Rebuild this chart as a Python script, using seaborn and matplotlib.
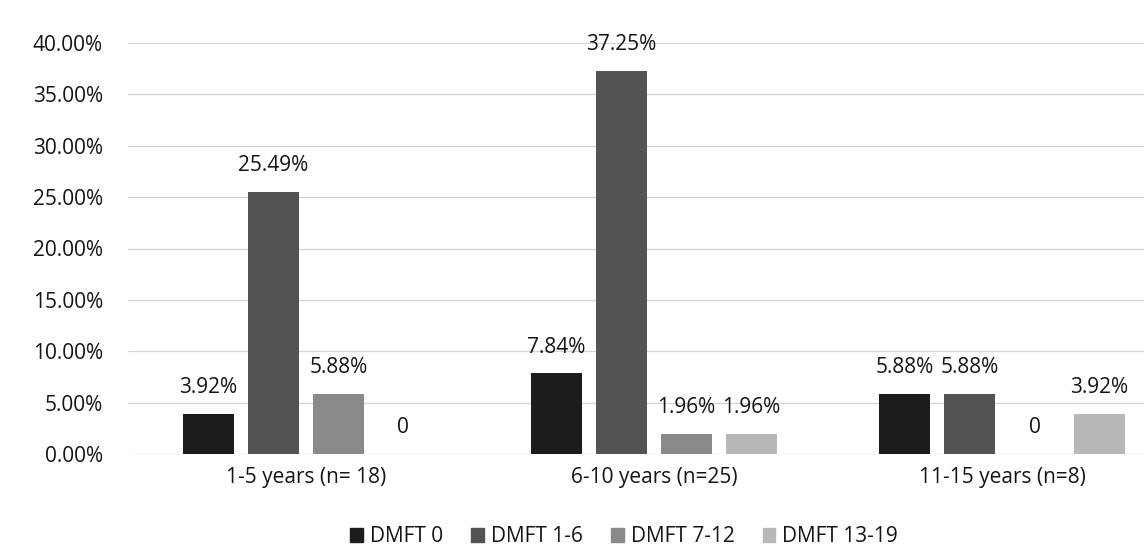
import matplotlib
matplotlib.use("Agg")
import matplotlib.pyplot as plt
import seaborn as sns
import pandas as pd

# Age groups and DMFT share (percent of all children)
age_groups = ["1-5 years (n= 18)", "6-10 years (n=25)", "11-15 years (n=8)"]
dmft_levels = ["DMFT 0", "DMFT 1-6", "DMFT 7-12", "DMFT 13-19"]
dmft_0 = [3.92, 7.84, 5.88]
dmft_1_6 = [25.49, 37.25, 5.88]
dmft_7_12 = [5.88, 1.96, 0.0]
dmft_13_19 = [0.0, 1.96, 3.92]
y_ticks = [0, 5, 10, 15, 20, 25, 30, 35, 40]

series = {
    "DMFT 0": dmft_0,
    "DMFT 1-6": dmft_1_6,
    "DMFT 7-12": dmft_7_12,
    "DMFT 13-19": dmft_13_19,
}
rows = []
for level in dmft_levels:
    for grp, val in zip(age_groups, series[level]):
        rows.append({"group": grp, "level": level, "pct": val})
df = pd.DataFrame(rows)

sns.set_theme(style="white")
plt.rcParams["font.family"] = ["Open Sans", "DejaVu Sans"]

palette = ["#1c1c1c", "#545454", "#8a8a8a", "#b8b8b8"]
text_color = "#141414"
fs = 15

fig = plt.figure(figsize=(11.44, 5.47), dpi=100)
ax = fig.add_axes([128 / 1144, 1 - 454 / 547, 1 - 128 / 1144, (454 - 43) / 547])

sns.barplot(
    data=df, x="group", y="pct", hue="level",
    order=age_groups, hue_order=dmft_levels, palette=palette,
    width=0.747, gap=0.214, saturation=1, linewidth=0,
    legend=False, ax=ax,
)

ax.set_xlim(-0.511, 2.408)
ax.set_ylim(0, 40)
ax.set_yticks(y_ticks)
ax.set_yticklabels([f"{t:.2f}%" for t in y_ticks])
ax.yaxis.grid(True, color="#d4d4d4", linewidth=0.9)
ax.set_axisbelow(True)
for s in ax.spines.values():
    s.set_visible(False)
ax.tick_params(axis="y", length=0, pad=18, labelsize=fs, colors=text_color)
ax.tick_params(axis="x", length=0, pad=9, labelsize=fs, colors=text_color)
ax.set_xlabel("")
ax.set_ylabel("")

# value labels above each bar
for container, level in zip(ax.containers, dmft_levels):
    vals = series[level]
    labels = ["0" if v == 0 else f"{v:.2f}%" for v in vals]
    for rect, lab in zip(container.patches, labels):
        x = rect.get_x() + rect.get_width() / 2
        y = rect.get_height()
        ax.annotate(lab, (x, y), xytext=(0, 19), textcoords="offset points",
                    ha="center", va="center", fontsize=fs, color=text_color)

handles = [plt.Rectangle((0, 0), 1, 1, color=c) for c in palette]
fig.legend(handles, dmft_levels, loc="center", ncol=4, frameon=False,
           bbox_to_anchor=(624 / 1144, 1 - 537 / 547), fontsize=fs,
           handlelength=0.62, handleheight=0.62, handletextpad=0.33,
           columnspacing=1.35, labelcolor=text_color)

fig.savefig("out.png", dpi=100)
